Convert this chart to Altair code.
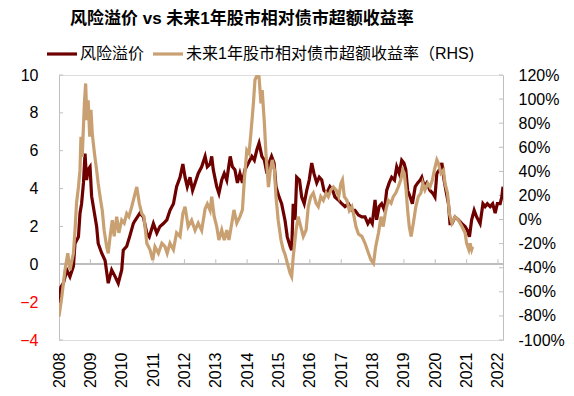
import altair as alt
import pandas as pd

TITLE = "风险溢价 vs 未来1年股市相对债市超额收益率"
S1 = "风险溢价"
S2 = "未来1年股市相对债市超额收益率（RHS)"

# 风险溢价 (left axis)
red_t = [2008.00, 2008.06, 2008.14, 2008.25, 2008.35, 2008.46, 2008.51, 2008.62, 2008.67, 2008.72,
         2008.78, 2008.83, 2008.88, 2008.93, 2008.99, 2009.04, 2009.13, 2009.20, 2009.25, 2009.36,
         2009.47, 2009.57, 2009.68, 2009.79, 2009.89, 2010.00, 2010.05, 2010.16, 2010.26, 2010.37,
         2010.42, 2010.58, 2010.69, 2010.80, 2010.88, 2011.01, 2011.12, 2011.22, 2011.33, 2011.44,
         2011.54, 2011.65, 2011.75, 2011.86, 2011.95, 2012.02, 2012.09, 2012.18, 2012.26, 2012.34,
         2012.44, 2012.55, 2012.66, 2012.73, 2012.82, 2012.87, 2012.92, 2013.03, 2013.10, 2013.19,
         2013.27, 2013.35, 2013.46, 2013.53, 2013.61, 2013.69, 2013.77, 2013.85, 2013.93, 2014.04,
         2014.15, 2014.23, 2014.31, 2014.38, 2014.47, 2014.55, 2014.63, 2014.70, 2014.78, 2014.86,
         2014.92, 2015.02, 2015.10, 2015.21, 2015.28, 2015.37, 2015.42, 2015.47, 2015.53, 2015.58,
         2015.67, 2015.74, 2015.82, 2015.90, 2015.98, 2016.06, 2016.13, 2016.22, 2016.30, 2016.38,
         2016.45, 2016.54, 2016.64, 2016.73, 2016.80, 2016.91, 2017.02, 2017.12, 2017.23, 2017.34,
         2017.44, 2017.55, 2017.66, 2017.76, 2017.85, 2017.92, 2017.99, 2018.08, 2018.13, 2018.21,
         2018.29, 2018.38, 2018.45, 2018.53, 2018.61, 2018.70, 2018.77, 2018.85, 2018.93, 2019.00,
         2019.06, 2019.12, 2019.20, 2019.27, 2019.36, 2019.44, 2019.52, 2019.57, 2019.65, 2019.73,
         2019.83, 2019.92, 2019.99, 2020.05, 2020.13, 2020.21, 2020.28, 2020.34, 2020.42, 2020.47,
         2020.53, 2020.63, 2020.74, 2020.85, 2020.95, 2021.02, 2021.09, 2021.16, 2021.24, 2021.32,
         2021.43, 2021.52, 2021.59, 2021.66, 2021.75, 2021.83, 2021.91, 2021.98, 2022.07, 2022.12,
         2022.16]
red_v = [-2.05, -1.2, -1.0, -0.3, -0.65, -0.1, 1.1, 1.45, 2.7, 3.2,
         4.3, 5.85, 4.45, 5.0, 5.15, 3.6, 2.7, 2.0, 1.1, 0.6,
         0.2, -1.0, -0.3, -0.65, -1.0, -0.3, 0.75, 0.95, 1.5, 2.15,
         2.3, 2.7, 2.5, 1.65, 1.45, 2.15, 1.65, 2.0, 2.15, 2.35,
         2.85, 3.2, 4.1, 4.6, 5.3, 4.6, 4.1, 4.6, 3.9, 4.3,
         4.8, 5.15, 5.7, 5.15, 5.3, 5.7, 5.0, 4.1, 3.75, 4.45,
         4.8, 4.45, 5.7, 5.15, 5.0, 4.3, 4.8, 4.3, 5.0, 5.35,
         5.7, 5.5, 6.05, 6.4, 5.7, 5.5, 4.8, 5.35, 5.7, 5.35,
         4.1, 3.55, 3.2, 2.3, 1.45, 0.95, 0.75, 3.2, 2.35, 4.6,
         4.45, 3.55, 3.2, 3.9, 4.45, 5.35, 4.8, 4.3, 4.6, 4.45,
         3.9, 3.75, 4.1, 3.9, 3.55, 3.4, 3.2, 3.05, 3.2, 2.85,
         2.85, 2.6, 2.5, 2.5, 2.15, 2.35, 2.15, 3.4, 2.35, 3.05,
         3.2, 2.85, 3.9, 4.3, 4.6, 4.45, 5.15, 4.8, 5.5, 5.35,
         5.0, 3.9, 3.55, 3.2, 4.1, 4.3, 4.45, 4.6, 4.1, 4.3,
         3.9, 3.75, 3.55, 4.8, 5.0, 5.35, 4.45, 3.9, 3.2, 2.15,
         2.15, 2.5, 2.35, 2.15, 2.0, 1.8, 1.45, 2.35, 2.85, 2.5,
         2.15, 3.2, 3.05, 3.2, 3.05, 3.2, 2.7, 3.2, 3.2, 3.55,
         4.1]

# 未来1年股市相对债市超额收益率 (right axis, %)
tan_t = [2008.00, 2008.09, 2008.19, 2008.28, 2008.35, 2008.46, 2008.51, 2008.56, 2008.62, 2008.67,
         2008.70, 2008.74, 2008.81, 2008.85, 2008.89, 2008.93, 2008.98, 2009.02, 2009.06, 2009.13,
         2009.20, 2009.25, 2009.31, 2009.38, 2009.44, 2009.52, 2009.57, 2009.63, 2009.70, 2009.76,
         2009.84, 2009.91, 2010.00, 2010.08, 2010.16, 2010.23, 2010.32, 2010.37, 2010.48, 2010.56,
         2010.64, 2010.71, 2010.80, 2010.90, 2010.99, 2011.06, 2011.17, 2011.28, 2011.38, 2011.45,
         2011.54, 2011.65, 2011.75, 2011.86, 2011.95, 2012.02, 2012.12, 2012.23, 2012.34, 2012.44,
         2012.55, 2012.66, 2012.73, 2012.82, 2012.87, 2012.95, 2013.03, 2013.10, 2013.19, 2013.27,
         2013.35, 2013.42, 2013.51, 2013.58, 2013.67, 2013.77, 2013.85, 2013.91, 2013.99, 2014.06,
         2014.12, 2014.20, 2014.25, 2014.32, 2014.38, 2014.44, 2014.48, 2014.55, 2014.60, 2014.68,
         2014.74, 2014.80, 2014.87, 2014.92, 2014.99, 2015.08, 2015.15, 2015.21, 2015.28, 2015.37,
         2015.42, 2015.47, 2015.56, 2015.63, 2015.71, 2015.79, 2015.88, 2015.95, 2016.03, 2016.11,
         2016.20, 2016.27, 2016.35, 2016.43, 2016.52, 2016.59, 2016.67, 2016.75, 2016.84, 2016.92,
         2016.99, 2017.04, 2017.10, 2017.18, 2017.26, 2017.34, 2017.41, 2017.47, 2017.55, 2017.66,
         2017.76, 2017.87, 2017.95, 2018.03, 2018.10, 2018.19, 2018.27, 2018.34, 2018.42, 2018.50,
         2018.59, 2018.66, 2018.74, 2018.82, 2018.90, 2018.96, 2019.01, 2019.07, 2019.12, 2019.17,
         2019.23, 2019.30, 2019.38, 2019.46, 2019.54, 2019.60, 2019.67, 2019.76, 2019.83, 2019.91,
         2019.97, 2020.05, 2020.10, 2020.18, 2020.26, 2020.31, 2020.39, 2020.45, 2020.53, 2020.63,
         2020.74, 2020.85, 2020.95, 2021.00, 2021.07, 2021.11, 2021.16, 2021.19]
tan_v = [-80.6, -64, -42, -28, -42, -28, -9, 13.8, 27, 41,
         68.8, 52, 96.5, 113, 82.6, 99, 68.8, 91, 71.6, 55,
         41, 30, 19, 7.5, -9, -22.5, -28, -14, -0.5, -14,
         2.4, -11, -0.5, -3, 5, 2.4, 10.7, 16, 27, 13.5,
         5, 2.4, -19.7, -25, -33.6, -22.5, -28, -19.7, -22.5, -28,
         -19.7, -25, -11, -14, 5, 10.7, -5.8, -0.5, -9, -3,
         -9, 9, 13, 7.5, 19, 2.4, -5.8, -17, -8.7, -17,
         -8.7, -17, -3, 8, -3, 2.4, 8, 33, 57.7, 55,
         71.6, 96.5, 116, 120, 118.6, 96.5, 107.5, 80, 55, 27,
         41, 49.5, 41, 19, -0.5, -17, -25, -29, -36, -44.6,
         -47.4, -30.8, -8.7, 2.4, -5.8, -14, -8.7, 10.7, 19, 22,
         13.5, 10.7, 19, 16, 22, 19, 24.5, 27, 24.5, 19,
         30, 33, 19, 16, 7.5, 10.7, 2.4, -5.8, -12, -14,
         -19.7, -28, -33.6, -36.4, -22.5, -11, 2.4, -5.8, 7.5, 16,
         13.5, 19, 22, 27, 33, 41, 38.4, 24.5, 7.5, -5.8,
         -14, -3, 10.7, 19, 22, 30, 24.5, 30, 27, 33,
         41, 49.5, 46.7, 38.4, 41, 30, 22, 5, -3, 2.4,
         -0.5, -5.8, -11, -19.7, -25, -19.7, -25, -22.5]

year_ticks = list(range(2008, 2023))
left_ticks = [-4, -2, 0, 2, 4, 6, 8, 10]
right_ticks = [-100, -80, -60, -40, -20, 0, 20, 40, 60, 80, 100, 120]
legend_names = [S1, S2]

W, H = 444, 265
RED = "#6e0000"
TAN = "#c9a072"
GRAY = "#bfbfbf"
FONT = "Liberation Sans, Arial, Noto Sans CJK SC, sans-serif"

red_df = pd.DataFrame({"t": red_t, "v": red_v, "series": S1})
tan_df = pd.DataFrame({"t": tan_t, "v": tan_v, "series": S2})
lt_df = pd.DataFrame({"v": left_ticks})
rt_df = pd.DataFrame({"v": right_ticks})
yt_df = pd.DataFrame({"t": year_ticks[1:]})

xs = alt.Scale(domain=[2008, 2022.16], nice=False, zero=False)
ls = alt.Scale(domain=[-4, 10], nice=False, zero=False)
rs = alt.Scale(domain=[-100, 120], nice=False, zero=False)
cs = alt.Scale(domain=legend_names, range=[RED, TAN])

x_axis = alt.Axis(values=year_ticks, format="d", labelAngle=270, labelFontSize=16,
                  labelFont=FONT, labelColor="#000000", labelPadding=12, ticks=False,
                  tickSize=0, domain=False, grid=False, title=None, labelOverlap=False)
x_enc = alt.X("t:Q", scale=xs, axis=x_axis)
color_enc = alt.Color("series:N", scale=cs, legend=None)

zero_line = alt.Chart(red_df).mark_rule(color=GRAY, strokeWidth=1).encode(
    y=alt.YDatum(0, scale=ls, axis=None))

year_tk = alt.Chart(yt_df).mark_rule(color=GRAY, strokeWidth=1).encode(
    x=x_enc,
    y=alt.YDatum(0, scale=ls, axis=None),
    y2=alt.Y2Datum(0.27))

left_tk = alt.Chart(lt_df).mark_rule(color=GRAY, strokeWidth=1).encode(
    y=alt.Y("v:Q", scale=ls, axis=None),
    x=alt.value(0), x2=alt.value(4))

right_tk = alt.Chart(rt_df).mark_rule(color=GRAY, strokeWidth=1).encode(
    y=alt.Y("v:Q", scale=rs, axis=None),
    x=alt.value(W), x2=alt.value(W - 4))

red_line = alt.Chart(red_df).mark_line(strokeWidth=3.2, clip=True).encode(
    x=x_enc,
    y=alt.Y("v:Q", scale=ls,
            axis=alt.Axis(orient="left", values=left_ticks, labelFontSize=16, labelFont=FONT,
                          labelColor={"condition": {"test": "datum.value < 0", "value": "#ff0000"},
                                      "value": "#000000"},
                          labelPadding=21, ticks=False, tickSize=0, domainColor=GRAY,
                          domainWidth=1, grid=False, title=None)),
    color=color_enc)

tan_line = alt.Chart(tan_df).mark_line(strokeWidth=3.2, clip=True).encode(
    x=x_enc,
    y=alt.Y("v:Q", scale=rs,
            axis=alt.Axis(orient="right", values=right_ticks, labelFontSize=16, labelFont=FONT,
                          labelColor="#000000", labelExpr="datum.value + '%'",
                          labelPadding=15, ticks=False, tickSize=0, domainColor=GRAY,
                          domainWidth=1, grid=False, title=None)),
    color=color_enc)

# legend (swatch + label for each series)
leg1_df = pd.DataFrame({"series": [S1]})
leg2_df = pd.DataFrame({"series": [S2]})
LY = -21
leg1_sw = alt.Chart(leg1_df).mark_rule(strokeWidth=3.2).encode(
    x=alt.value(-12), x2=alt.value(18), y=alt.value(LY), color=color_enc)
leg1_tx = alt.Chart(leg1_df).mark_text(align="left", baseline="middle", fontSize=16,
                                       font=FONT, color="#000000").encode(
    x=alt.value(21), y=alt.value(LY), text="series:N")
leg2_sw = alt.Chart(leg2_df).mark_rule(strokeWidth=3.2).encode(
    x=alt.value(94), x2=alt.value(124), y=alt.value(LY), color=color_enc)
leg2_tx = alt.Chart(leg2_df).mark_text(align="left", baseline="middle", fontSize=16,
                                       font=FONT, color="#000000").encode(
    x=alt.value(127), y=alt.value(LY), text="series:N")

chart = alt.layer(zero_line, year_tk, left_tk, right_tk, red_line, tan_line,
                  leg1_sw, leg1_tx, leg2_sw, leg2_tx).resolve_scale(
    y="independent"
).properties(
    width=W, height=H,
    title=alt.TitleParams(TITLE, anchor="start", frame="group", dx=11, offset=18,
                          fontSize=17, font=FONT, fontWeight="bold", color="#000000"),
    autosize=alt.AutoSizeParams(type="none"),
    padding={"left": 51, "top": 67, "right": 63, "bottom": 50},
).configure_view(stroke=None).configure(background="white")

chart.save("out.html", embed_options={"renderer": "svg", "actions": False})
